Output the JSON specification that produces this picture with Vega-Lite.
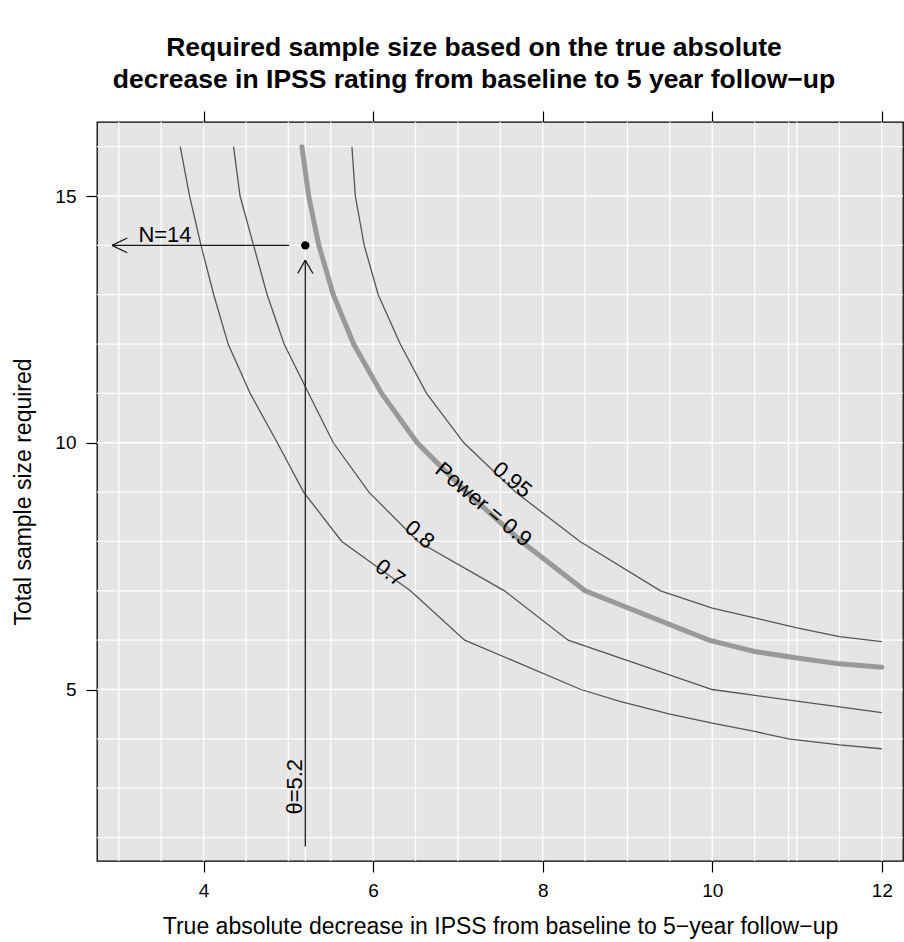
{
  "$schema": "https://vega.github.io/schema/vega-lite/v6.json",
  "width": 806,
  "height": 739,
  "autosize": "none",
  "padding": {"left": 97, "top": 122, "right": 1, "bottom": 81},
  "background": "white",
  "config": {
    "font": "Liberation Sans",
    "view": {"fill": "#e5e5e5", "stroke": "#000000", "strokeWidth": 1.3}
  },
  "title": {
    "text": ["Required sample size based on the true absolute", "decrease in IPSS rating from baseline to 5 year follow\u2212up"],
    "font": "Liberation Sans",
    "fontSize": 26.5,
    "fontWeight": "bold",
    "color": "#000000",
    "anchor": "middle",
    "dx": -26,
    "offset": 17,
    "lineHeight": 32
  },
  "resolve": {"axis": {"x": "independent", "y": "independent"}},
  "datasets": {
    "xgrid": [
      {"v": 3}, {"v": 3.5}, {"v": 4}, {"v": 4.5}, {"v": 5}, {"v": 5.2}, {"v": 5.5}, {"v": 6}, {"v": 6.5},
      {"v": 7}, {"v": 7.5}, {"v": 8}, {"v": 8.5}, {"v": 9}, {"v": 9.5}, {"v": 10}, {"v": 10.5}, {"v": 10.9},
      {"v": 11}, {"v": 11.5}, {"v": 12}
    ],
    "ygrid": [
      {"v": 2}, {"v": 3}, {"v": 4}, {"v": 5}, {"v": 6}, {"v": 7}, {"v": 8}, {"v": 9}, {"v": 10},
      {"v": 11}, {"v": 12}, {"v": 13}, {"v": 14}, {"v": 15}, {"v": 16}
    ],
    "curves": [
      {"power": "0.7", "x": 3.725, "y": 16}, {"power": "0.7", "x": 3.835, "y": 15}, {"power": "0.7", "x": 3.97, "y": 14},
      {"power": "0.7", "x": 4.12, "y": 13}, {"power": "0.7", "x": 4.29, "y": 12}, {"power": "0.7", "x": 4.55, "y": 11},
      {"power": "0.7", "x": 4.87, "y": 10}, {"power": "0.7", "x": 5.18, "y": 9}, {"power": "0.7", "x": 5.63, "y": 8},
      {"power": "0.7", "x": 6.44, "y": 7}, {"power": "0.7", "x": 7.08, "y": 6}, {"power": "0.7", "x": 8.45, "y": 5},
      {"power": "0.7", "x": 8.91, "y": 4.76}, {"power": "0.7", "x": 9.5, "y": 4.5}, {"power": "0.7", "x": 10, "y": 4.32},
      {"power": "0.7", "x": 10.5, "y": 4.15}, {"power": "0.7", "x": 10.9, "y": 4.0}, {"power": "0.7", "x": 11.5, "y": 3.88},
      {"power": "0.7", "x": 12, "y": 3.8},
      {"power": "0.8", "x": 4.354, "y": 16}, {"power": "0.8", "x": 4.43, "y": 15}, {"power": "0.8", "x": 4.59, "y": 14},
      {"power": "0.8", "x": 4.75, "y": 13}, {"power": "0.8", "x": 4.95, "y": 12}, {"power": "0.8", "x": 5.24, "y": 11},
      {"power": "0.8", "x": 5.53, "y": 10}, {"power": "0.8", "x": 5.95, "y": 9}, {"power": "0.8", "x": 6.53, "y": 8},
      {"power": "0.8", "x": 7.55, "y": 7}, {"power": "0.8", "x": 8.3, "y": 6}, {"power": "0.8", "x": 10, "y": 5},
      {"power": "0.8", "x": 12, "y": 4.53},
      {"power": "0.9", "x": 5.16, "y": 16}, {"power": "0.9", "x": 5.24, "y": 15}, {"power": "0.9", "x": 5.36, "y": 14},
      {"power": "0.9", "x": 5.53, "y": 13}, {"power": "0.9", "x": 5.77, "y": 12}, {"power": "0.9", "x": 6.1, "y": 11},
      {"power": "0.9", "x": 6.52, "y": 10}, {"power": "0.9", "x": 7.1, "y": 9}, {"power": "0.9", "x": 7.75, "y": 8},
      {"power": "0.9", "x": 8.5, "y": 7}, {"power": "0.9", "x": 9.96, "y": 6}, {"power": "0.9", "x": 10.5, "y": 5.77},
      {"power": "0.9", "x": 11, "y": 5.64}, {"power": "0.9", "x": 11.5, "y": 5.52}, {"power": "0.9", "x": 12, "y": 5.45},
      {"power": "0.95", "x": 5.75, "y": 16}, {"power": "0.95", "x": 5.79, "y": 15}, {"power": "0.95", "x": 5.895, "y": 14},
      {"power": "0.95", "x": 6.06, "y": 13}, {"power": "0.95", "x": 6.32, "y": 12}, {"power": "0.95", "x": 6.63, "y": 11},
      {"power": "0.95", "x": 7.07, "y": 10}, {"power": "0.95", "x": 7.68, "y": 9}, {"power": "0.95", "x": 8.44, "y": 8},
      {"power": "0.95", "x": 9.39, "y": 7}, {"power": "0.95", "x": 10, "y": 6.65}, {"power": "0.95", "x": 10.5, "y": 6.45},
      {"power": "0.95", "x": 11, "y": 6.25}, {"power": "0.95", "x": 11.5, "y": 6.07}, {"power": "0.95", "x": 12, "y": 5.97}
    ],
    "segs": [
      {"x": 5.2, "y": 1.82, "x2": 5.2, "y2": 13.7},
      {"x": 5.11, "y": 13.43, "x2": 5.2, "y2": 13.7},
      {"x": 5.29, "y": 13.43, "x2": 5.2, "y2": 13.7},
      {"x": 5.01, "y": 14, "x2": 2.92, "y2": 14},
      {"x": 3.1, "y": 14.15, "x2": 2.92, "y2": 14},
      {"x": 3.1, "y": 13.85, "x2": 2.92, "y2": 14}
    ]
  },
  "layer": [
    {
      "data": {"name": "xgrid"},
      "mark": {"type": "rule", "color": "#ffffff", "strokeWidth": 1.3},
      "encoding": {
        "x": {
          "field": "v", "type": "quantitative",
          "scale": {"domain": [2.743, 12.25], "nice": false, "zero": false},
          "axis": {
            "orient": "bottom", "values": [4, 6, 8, 10, 12], "grid": false, "domain": false,
            "tickColor": "#000000", "tickSize": 11, "tickWidth": 1.2,
            "labelFontSize": 19, "labelColor": "#000000", "labelPadding": 9, "labelFont": "Liberation Sans",
            "title": "True absolute decrease in IPSS from baseline to 5\u2212year follow\u2212up",
            "titleFontSize": 23, "titleFontWeight": "normal", "titleColor": "#000000", "titlePadding": 15,
            "titleFont": "Liberation Sans"
          }
        }
      }
    },
    {
      "data": {"name": "ygrid"},
      "mark": {"type": "rule", "color": "#ffffff", "strokeWidth": 1.3},
      "encoding": {
        "y": {
          "field": "v", "type": "quantitative",
          "scale": {"domain": [1.525, 16.5], "nice": false, "zero": false},
          "axis": null
        }
      }
    },
    {
      "data": {"name": "curves"},
      "transform": [{"filter": "datum.power != '0.9'"}],
      "mark": {"type": "line", "color": "#555555", "strokeWidth": 1.3},
      "encoding": {
        "x": {
          "field": "x", "type": "quantitative",
          "axis": {
            "orient": "top", "values": [4, 6, 8, 10, 12], "grid": false, "domain": false, "labels": false,
            "tickColor": "#000000", "tickSize": 11, "tickWidth": 1.2, "title": null
          }
        },
        "y": {
          "field": "y", "type": "quantitative",
          "axis": {
            "orient": "left", "values": [5, 10, 15], "grid": false, "domain": false,
            "tickColor": "#000000", "tickSize": 11, "tickWidth": 1.2,
            "labelFontSize": 19, "labelColor": "#000000", "labelPadding": 10, "labelFont": "Liberation Sans",
            "title": "Total sample size required",
            "titleFontSize": 23, "titleFontWeight": "normal", "titleColor": "#000000", "titlePadding": 19,
            "titleFont": "Liberation Sans"
          }
        },
        "detail": {"field": "power"}
      }
    },
    {
      "data": {"name": "curves"},
      "transform": [{"filter": "datum.power == '0.9'"}],
      "mark": {"type": "line", "color": "#999999", "strokeWidth": 5, "strokeCap": "round"},
      "encoding": {
        "x": {"field": "x", "type": "quantitative", "axis": null},
        "y": {"field": "y", "type": "quantitative", "axis": null}
      }
    },
    {
      "data": {"name": "segs"},
      "mark": {"type": "rule", "color": "#1a1a1a", "strokeWidth": 1.3},
      "encoding": {
        "x": {"field": "x", "type": "quantitative", "axis": null},
        "y": {"field": "y", "type": "quantitative", "axis": null},
        "x2": {"field": "x2"},
        "y2": {"field": "y2"}
      }
    },
    {
      "data": {"values": [{"x": 5.2, "y": 14}]},
      "mark": {"type": "point", "filled": true, "color": "#000000", "size": 70, "opacity": 1},
      "encoding": {
        "x": {"field": "x", "type": "quantitative", "axis": null},
        "y": {"field": "y", "type": "quantitative", "axis": null}
      }
    },
    {
      "data": {"values": [{"label": "N=14", "x": 3.545, "y": 14.07}]},
      "mark": {"type": "text", "fontSize": 22, "align": "center", "baseline": "alphabetic", "color": "#000000", "font": "Liberation Sans"},
      "encoding": {
        "x": {"field": "x", "type": "quantitative", "axis": null},
        "y": {"field": "y", "type": "quantitative", "axis": null},
        "text": {"field": "label"}
      }
    },
    {
      "data": {"values": [{"label": "\u03b8=5.2", "x": 5.08, "y": 3.03}]},
      "mark": {"type": "text", "fontSize": 22, "align": "center", "baseline": "middle", "angle": 270, "color": "#000000", "font": "Liberation Sans"},
      "encoding": {
        "x": {"field": "x", "type": "quantitative", "axis": null},
        "y": {"field": "y", "type": "quantitative", "axis": null},
        "text": {"field": "label"}
      }
    },
    {
      "data": {"values": [{"label": "Power = 0.9", "x": 7.3, "y": 8.75}, {"label": "0.95", "x": 7.64, "y": 9.25}, {"label": "0.8", "x": 6.55, "y": 8.14}]},
      "mark": {"type": "text", "fontSize": 22, "align": "center", "baseline": "middle", "angle": 40, "color": "#000000", "font": "Liberation Sans"},
      "encoding": {
        "x": {"field": "x", "type": "quantitative", "axis": null},
        "y": {"field": "y", "type": "quantitative", "axis": null},
        "text": {"field": "label"}
      }
    },
    {
      "data": {"values": [{"label": "0.7", "x": 6.2, "y": 7.36}]},
      "mark": {"type": "text", "fontSize": 22, "align": "center", "baseline": "middle", "angle": 37, "color": "#000000", "font": "Liberation Sans"},
      "encoding": {
        "x": {"field": "x", "type": "quantitative", "axis": null},
        "y": {"field": "y", "type": "quantitative", "axis": null},
        "text": {"field": "label"}
      }
    }
  ]
}
